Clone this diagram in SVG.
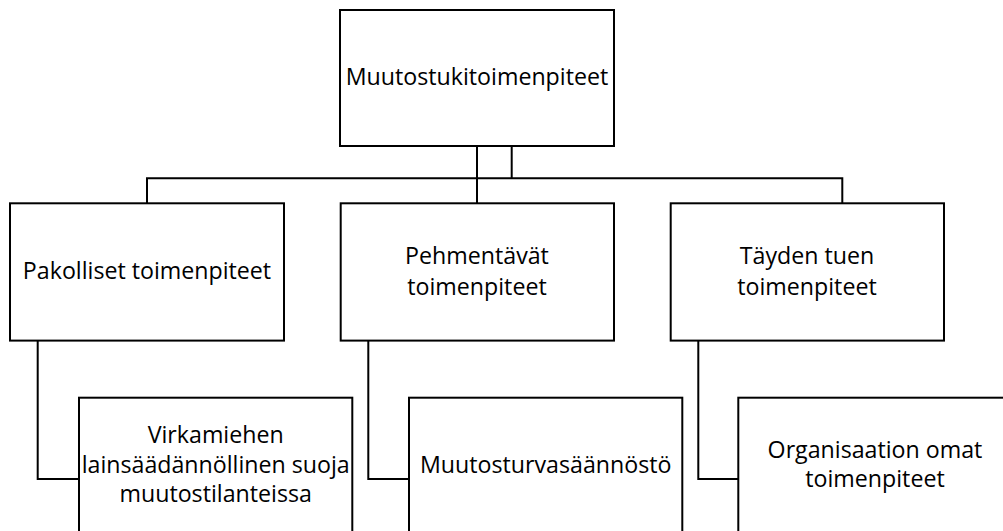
<svg xmlns="http://www.w3.org/2000/svg" width="1003" height="531" viewBox="0 0 1003 531">
  <style>
    .box { fill: #ffffff; stroke: #000000; stroke-width: 2; }
    .link { fill: none; stroke: #000000; stroke-width: 2; }
    .lbl { font-family: "Open Sans", "Liberation Sans", sans-serif; font-size: 23.2px; fill: #000000; text-anchor: middle; }
  </style>

  <g id="connectors">
    <path class="link" d="M477,146 V203"/>
    <path class="link" d="M511.7,146 V178.3"/>
    <path class="link" d="M147,203 V178.3 H842.3 V203"/>
    <path class="link" d="M37.7,341 V479 H79"/>
    <path class="link" d="M368.3,341 V479 H409"/>
    <path class="link" d="M698.3,341 V479 H738.3"/>
  </g>

  <g id="root">
    <rect class="box" x="340" y="10" width="274" height="136"/>
    <text class="lbl" x="477" y="85">Muutostukitoimenpiteet</text>
  </g>

  <g id="pakolliset">
    <rect class="box" x="10" y="203.3" width="274" height="137.3"/>
    <text class="lbl" x="147" y="279.3">Pakolliset toimenpiteet</text>
  </g>

  <g id="pehmentavat">
    <rect class="box" x="340.7" y="203.3" width="273.3" height="137.3"/>
    <text class="lbl" x="477" y="264">Pehmentävät</text>
    <text class="lbl" x="477" y="295">toimenpiteet</text>
  </g>

  <g id="tayden-tuen">
    <rect class="box" x="670.7" y="203.3" width="273.3" height="137.3"/>
    <text class="lbl" x="807" y="264">Täyden tuen</text>
    <text class="lbl" x="807" y="295">toimenpiteet</text>
  </g>

  <g id="virkamiehen-suoja">
    <rect class="box" x="79" y="397.7" width="273.3" height="140"/>
    <text class="lbl" x="215.7" y="443">Virkamiehen</text>
    <text class="lbl" x="215.7" y="473">lainsäädännöllinen suoja</text>
    <text class="lbl" x="215.7" y="502">muutostilanteissa</text>
  </g>

  <g id="muutosturva">
    <rect class="box" x="409" y="397.7" width="273.3" height="140"/>
    <text class="lbl" x="545.7" y="473">Muutosturvasäännöstö</text>
  </g>

  <g id="organisaatio">
    <rect class="box" x="738.3" y="397.7" width="273.3" height="140"/>
    <text class="lbl" x="875" y="458">Organisaation omat</text>
    <text class="lbl" x="875" y="487">toimenpiteet</text>
  </g>
</svg>
